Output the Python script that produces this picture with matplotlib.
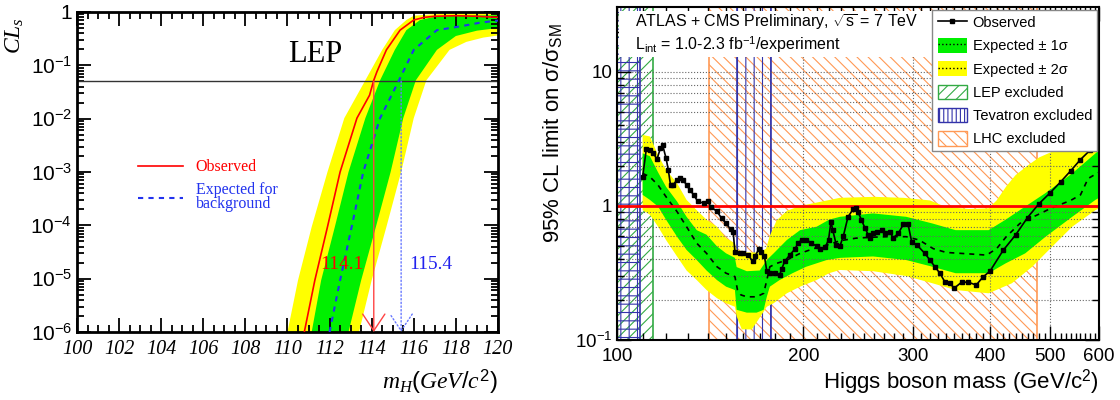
import matplotlib
matplotlib.use('Agg')
import matplotlib.pyplot as plt
import numpy as np
from matplotlib.patches import Patch, Rectangle
from matplotlib.lines import Line2D
from matplotlib.ticker import FixedLocator, FixedFormatter, NullFormatter

plt.rcParams['font.family'] = 'Liberation Sans'
plt.rcParams['mathtext.fontset'] = 'custom'
plt.rcParams['mathtext.rm'] = 'Liberation Sans'
plt.rcParams['mathtext.it'] = 'Liberation Serif:italic'
plt.rcParams['mathtext.bf'] = 'Liberation Sans:bold'
plt.rcParams['mathtext.sf'] = 'Liberation Sans'
plt.rcParams['hatch.linewidth'] = 0.8

GREEN = '#00f000'
YELLOW = '#ffff00'

# ---------------- LEP panel data (log10 CLs vs m_H) ----------------
lep_obs_mass = [110.8, 111.3, 111.9, 112.5, 113.3, 113.9, 114.1, 114.25, 114.7, 115.35,
                116.0, 116.5, 117.0, 118.0, 119.0, 120.0]
lep_obs_log = [-6.0, -5.03, -4.03, -3.0, -1.99, -1.56, -1.28, -1.12, -0.71, -0.34,
               -0.15, -0.1, -0.08, -0.07, -0.08, -0.1]
lep_exp_mass = [112.0, 112.5, 113.05, 113.6, 114.4, 115.3, 116.0, 117.1, 118.2, 119.15, 120.0]
lep_exp_log = [-6.0, -5.03, -4.03, -3.0, -1.99, -1.28, -0.71, -0.34, -0.27, -0.2, -0.16]
# band edges: "lo" = low-mass side, "hi" = high-mass side
lep_2s_lo_mass = [110.0, 110.5, 111.15, 111.9, 112.7, 113.7, 114.5, 115.1, 115.65, 116.0, 117.0, 118.0, 120.0]
lep_2s_lo_log = [-6.0, -5.03, -4.03, -3.0, -1.99, -1.28, -0.71, -0.34, -0.15, -0.07, -0.04, -0.03, -0.03]
lep_2s_hi_mass = [113.4, 114.0, 114.7, 115.4, 116.0, 116.6, 117.7, 118.5, 119.3, 120.0]
lep_2s_hi_log = [-6.0, -5.03, -4.03, -3.0, -1.99, -1.28, -0.71, -0.56, -0.48, -0.44]
lep_1s_lo_mass = [111.15, 111.6, 112.25, 112.9, 113.7, 114.4, 115.1, 115.65, 116.3, 117.0, 118.0, 120.0]
lep_1s_lo_log = [-6.0, -5.03, -4.03, -3.0, -1.99, -1.28, -0.71, -0.34, -0.15, -0.09, -0.07, -0.06]
lep_1s_hi_mass = [112.9, 113.5, 114.2, 114.9, 115.5, 116.1, 117.1, 118.0, 119.0, 120.0]
lep_1s_hi_log = [-6.0, -5.03, -4.03, -3.0, -1.99, -1.28, -0.71, -0.45, -0.35, -0.3]
cl_level = 0.05
obs_limit = 114.1
exp_limit = 115.4

# ---------------- ATLAS+CMS panel data ----------------
obs_mass = [110, 111.5, 113, 114.5, 116, 117.5, 118.5, 120, 121, 122, 123, 125, 126.5, 128,
            129.5, 131, 133, 135, 138, 140, 142, 145, 147.5, 150, 152.5, 154, 155, 158, 160,
            163, 165.5, 167, 169.5, 171, 173, 174.5, 176.5, 180, 183, 184.5, 186.5, 190, 194,
            196, 199, 202, 206, 210, 213, 217, 219.5, 221.5, 223, 226, 229, 232, 236, 240.5,
            243, 245, 248, 251.5, 254.5, 256.5, 259, 263, 267.5, 271, 276, 279, 284.5, 290,
            295, 299, 305, 314, 320, 326, 332, 338.5, 345, 350, 360, 369, 380, 390, 400, 420,
            440, 460, 480, 500, 520, 540, 560, 580, 600]
obs_limit_val = [1.65, 2.65, 2.6, 2.47, 2.23, 2.69, 2.84, 2.27, 1.86, 1.43, 1.43, 1.56, 1.63, 1.56,
                 1.43, 1.32, 1.21, 1.08, 1.05, 1.08, 0.98, 0.91, 0.81, 0.74, 0.67, 0.64, 0.456,
                 0.443, 0.443, 0.43, 0.386, 0.42, 0.48, 0.456, 0.42, 0.326, 0.315, 0.318, 0.305,
                 0.34, 0.386, 0.43, 0.48, 0.53, 0.56, 0.56, 0.53, 0.50, 0.475, 0.497, 0.557,
                 0.764, 0.66, 0.51, 0.50, 0.60, 0.83, 0.945, 0.96, 0.90, 0.79, 0.68, 0.608,
                 0.575, 0.625, 0.64, 0.66, 0.625, 0.64, 0.575, 0.625, 0.73, 0.73, 0.541, 0.51,
                 0.443, 0.395, 0.352, 0.315, 0.27, 0.265, 0.243, 0.27, 0.27, 0.257, 0.296, 0.326,
                 0.466, 0.608, 0.82, 1.04, 1.25, 1.51, 1.83, 2.22, 2.6, 3.0]
exp_mass = [110, 113, 116.5, 120, 125, 129.5, 134.5, 139.5, 145, 150, 155, 156.5, 158.5, 162,
            168, 172.5, 174.5, 176.5, 181, 188, 197.5, 207.5, 218, 229, 243, 259, 276, 293,
            307.5, 324, 340, 367, 395, 410, 425, 447, 470, 504, 540, 560, 576, 595, 600]
exp_limit_val = [1.75, 1.65, 1.43, 1.17, 0.907, 0.70, 0.527, 0.443, 0.352, 0.315, 0.297, 0.236,
                 0.217, 0.21, 0.21, 0.223, 0.28, 0.352, 0.373, 0.395, 0.443, 0.48, 0.51, 0.55,
                 0.575, 0.585, 0.59, 0.59, 0.557, 0.48, 0.45, 0.44, 0.43, 0.48, 0.59, 0.74, 0.83,
                 0.97, 1.1, 1.21, 1.6, 1.75, 1.78]
band2_up_mass = [110, 113, 116.5, 120, 125, 129.5, 134.5, 139.5, 145, 150, 155, 156, 162, 170,
                 174, 176.5, 181, 188, 197.5, 210, 229, 260, 290, 320, 340, 370, 398, 410, 425,
                 440, 460, 480, 500, 540, 600]
band2_up_val = [3.39, 3.3, 2.4, 1.86, 1.48, 1.11, 0.93, 0.79, 0.70, 0.575, 0.527, 0.47, 0.45, 0.45,
                0.48, 0.6, 0.78, 0.92, 1.0, 1.06, 1.15, 1.17, 1.15, 1.1, 0.98, 0.95, 0.96, 1.1,
                1.4, 1.7, 2.0, 2.3, 2.5, 2.9, 3.5]
band2_dn_mass = [110, 113, 116.5, 120, 125, 129.5, 134.5, 139.5, 145, 150, 155, 156, 159, 165,
                 169, 174.5, 179, 188, 197.5, 210, 220, 229, 259, 293, 323, 352, 398, 434, 468,
                 504, 543, 592, 600]
band2_dn_val = [0.93, 0.86, 0.70, 0.557, 0.42, 0.33, 0.28, 0.236, 0.205, 0.188, 0.177, 0.15, 0.12,
                0.12, 0.141, 0.177, 0.188, 0.223, 0.25, 0.28, 0.315, 0.333, 0.326, 0.30, 0.265,
                0.236, 0.223, 0.265, 0.352, 0.497, 0.70, 0.93, 0.96]
band1_up_mass = [110, 113, 116.5, 120, 125, 129.5, 134.5, 139.5, 145, 150, 155, 156, 162, 170,
                 174.5, 179, 188, 197.5, 210, 220, 229, 259, 293, 323, 352, 398, 424, 456, 492,
                 543, 600]
band1_up_val = [2.47, 2.35, 1.78, 1.39, 1.08, 0.83, 0.66, 0.61, 0.50, 0.443, 0.41, 0.35, 0.326,
                0.33, 0.395, 0.443, 0.557, 0.66, 0.70, 0.79, 0.83, 0.88, 0.83, 0.74, 0.66, 0.66,
                0.79, 0.99, 1.25, 1.75, 2.6]
band1_dn_mass = [110, 113, 116.5, 120, 125, 129.5, 134.5, 139.5, 145, 150, 155, 156, 162, 168,
                 172.5, 174.5, 176.5, 183, 192, 202, 218, 229, 259, 293, 323, 352, 398, 424, 456,
                 492, 543, 592, 600]
band1_dn_val = [1.21, 1.11, 0.99, 0.79, 0.59, 0.47, 0.395, 0.33, 0.28, 0.25, 0.236, 0.168, 0.16,
                0.16, 0.168, 0.21, 0.25, 0.28, 0.315, 0.352, 0.395, 0.41, 0.42, 0.395, 0.352,
                0.315, 0.315, 0.373, 0.443, 0.59, 0.83, 1.11, 1.15]
lep_excl = (100, 114.4)
tev_excl = [(100, 109), (156, 177)]
lhc_excl = (141, 476)

LEP_C = '#33aa44'
TEV_C = '#3333aa'
LHC_C = '#ff9955'


def polygon(lo_x, lo_y, hi_x, hi_y):
    xs = np.concatenate([np.asarray(lo_x, float), np.asarray(hi_x, float)[::-1]])
    ys = np.concatenate([np.asarray(lo_y, float), np.asarray(hi_y, float)[::-1]])
    return xs, ys


fig = plt.figure(figsize=(11.2, 4), dpi=100)

# ======================= left: LEP =======================
axl = fig.add_axes([0.06875, 0.17, 0.37585, 0.80])
axl.set_yscale('log')
x, y = polygon(lep_2s_lo_mass, lep_2s_lo_log, lep_2s_hi_mass, lep_2s_hi_log)
axl.fill(x, 10.0 ** y, color=YELLOW, lw=0, zorder=1)
x, y = polygon(lep_1s_lo_mass, lep_1s_lo_log, lep_1s_hi_mass, lep_1s_hi_log)
axl.fill(x, 10.0 ** y, color=GREEN, lw=0, zorder=1.1)
axl.axhline(cl_level, color='#333333', lw=1.0, zorder=2)
obs_line, = axl.plot(lep_obs_mass, 10.0 ** np.array(lep_obs_log), color='red', lw=1.2, zorder=3)
exp_line, = axl.plot(lep_exp_mass, 10.0 ** np.array(lep_exp_log), color='#2233ee', lw=1.5,
                     ls=(0, (2.5, 2.5)), zorder=3)
axl.annotate('', xy=(obs_limit, 1e-6), xytext=(obs_limit, cl_level),
             arrowprops=dict(arrowstyle='->,head_length=0.6,head_width=0.4', color='#ff4444',
                             lw=1.0, shrinkA=0, shrinkB=0, mutation_scale=20), zorder=4)
axl.annotate('', xy=(exp_limit, 1e-6), xytext=(exp_limit, cl_level),
             arrowprops=dict(arrowstyle='->,head_length=0.6,head_width=0.4', color='#6677ff',
                             lw=1.0, ls=':', shrinkA=0, shrinkB=0, mutation_scale=20), zorder=4)
axl.text(112.6, 10 ** -4.74, f'{obs_limit}', color='red', fontsize=14,
         family='Liberation Serif', ha='center', va='center', zorder=5)
axl.text(116.8, 10 ** -4.74, f'{exp_limit}', color='#2222ee', fontsize=14,
         family='Liberation Serif', ha='center', va='center', zorder=5)
axl.text(0.565, 0.866, 'LEP', transform=axl.transAxes, fontsize=22,
         family='Liberation Serif', ha='center', va='center')

axl.set_xlim(100, 120)
axl.set_ylim(1e-6, 1)
lep_xt = np.arange(100, 121, 2)
axl.xaxis.set_major_locator(FixedLocator(lep_xt))
axl.xaxis.set_minor_locator(FixedLocator(np.arange(100, 120.01, 0.5)))
axl.set_xticklabels([str(v) for v in lep_xt], family='Liberation Serif', style='italic',
                    fontsize=14.5)
lep_yt = [1e-6, 1e-5, 1e-4, 1e-3, 1e-2, 1e-1, 1]
axl.yaxis.set_major_locator(FixedLocator(lep_yt))
axl.yaxis.set_major_formatter(FixedFormatter(
    [r'$\mathit{10^{-%d}}$' % k for k in range(6, 0, -1)] + [r'$\mathit{1}$']))
axl.yaxis.set_minor_locator(FixedLocator([m * 10.0 ** e for e in range(-6, 0) for m in range(2, 10)]))
axl.yaxis.set_minor_formatter(NullFormatter())
axl.tick_params(axis='y', labelsize=15)
axl.tick_params(which='both', direction='in', top=True, right=True, width=1.3)
axl.tick_params(which='major', length=10)
axl.tick_params(which='minor', length=5)
axl.tick_params(axis='x', pad=6)
for s in axl.spines.values():
    s.set_linewidth(2)
axl.set_xlabel(r'$\mathit{m_H(GeV/c^2)}$', fontsize=17, loc='right')
axl.xaxis.set_label_coords(1.0, -0.11)
axl.set_ylabel(r'$\mathit{CL_s}$', fontsize=17, loc='top')
axl.yaxis.set_label_coords(-0.12, 0.985)
leg = axl.legend([obs_line, exp_line], ['Observed', 'Expected for\nbackground'],
                 loc='upper left', bbox_to_anchor=(0.145, 0.54), frameon=False,
                 prop={'family': 'Liberation Serif', 'size': 11.5}, labelcolor='linecolor',
                 handlelength=2.8, handletextpad=0.8, borderaxespad=0, borderpad=0,
                 labelspacing=0.45)
leg.get_texts()[1].set_linespacing(0.8)

# ======================= right: ATLAS + CMS =======================
axr = fig.add_axes([0.5509, 0.15, 0.4304, 0.8325])
axr.set_xscale('log')
axr.set_yscale('log')

axr.axvspan(*lhc_excl, facecolor='none', edgecolor=LHC_C, hatch='\\\\\\', lw=0, zorder=0.4)
axr.axvspan(*lep_excl, facecolor='none', edgecolor=LEP_C, hatch='///', lw=0, zorder=0.5)
for lo, hi in tev_excl:
    axr.axvspan(lo, hi, facecolor='none', edgecolor=TEV_C, hatch='||', lw=0, zorder=0.6)
axr.axvspan(*tev_excl[0], facecolor='none', edgecolor=TEV_C, hatch='--', lw=0, zorder=0.6)
for v in lhc_excl:
    axr.axvline(v, color=LHC_C, lw=1.2, zorder=0.7)
axr.axvline(lep_excl[1], color=LEP_C, lw=1.2, zorder=0.7)
for lo, hi in tev_excl:
    axr.axvline(lo, color=TEV_C, lw=1.2, zorder=0.7)
    axr.axvline(hi, color=TEV_C, lw=1.2, zorder=0.7)

x, y = polygon(band2_up_mass, band2_up_val, band2_dn_mass, band2_dn_val)
axr.fill(x, y, color=YELLOW, lw=0, zorder=1)
x, y = polygon(band1_up_mass, band1_up_val, band1_dn_mass, band1_dn_val)
axr.fill(x, y, color=GREEN, lw=0, zorder=1.1)
axr.plot(exp_mass, exp_limit_val, color='k', lw=1.2, ls=(0, (3, 3)), zorder=4)
axr.plot(obs_mass, obs_limit_val, color='k', lw=1.2, marker='s', ms=3.5, zorder=5)
axr.axhline(1, color='red', lw=2, zorder=4.5)

axr.set_xlim(100, 600)
axr.set_ylim(0.1, 30.5)
higgs_xt = [100, 200, 300, 400, 500, 600]
axr.xaxis.set_major_locator(FixedLocator(higgs_xt))
axr.xaxis.set_major_formatter(FixedFormatter([str(v) for v in higgs_xt]))
axr.xaxis.set_minor_locator(FixedLocator([v for v in range(110, 600, 10) if v % 100]))
axr.xaxis.set_minor_formatter(NullFormatter())
axr.yaxis.set_major_locator(FixedLocator([0.1, 1, 10]))
axr.yaxis.set_major_formatter(FixedFormatter([r'$\mathrm{10^{-1}}$', '1', '10']))
axr.yaxis.set_minor_locator(FixedLocator([m * 10.0 ** e for e in (-1, 0) for m in range(2, 10)] + [20]))
axr.yaxis.set_minor_formatter(NullFormatter())
axr.tick_params(which='both', direction='in', top=True, right=True, width=1.0, labelsize=13.5)
axr.tick_params(which='major', length=10)
axr.tick_params(which='minor', length=5)
axr.tick_params(axis='x', pad=6)
axr.grid(True, which='both', axis='y', ls=':', color='#666666', lw=0.8)
axr.grid(True, which='major', axis='x', ls=':', color='#666666', lw=0.8)
axr.set_axisbelow(False)
for s in axr.spines.values():
    s.set_linewidth(1.5)
    s.set_zorder(6)

axr.add_patch(Rectangle((0.004, 0.85), 0.66, 0.138, transform=axr.transAxes, fc='white',
                        ec='none', zorder=3.5))
axr.text(0.037, 0.955, r'ATLAS + CMS Preliminary, $\sqrt{\mathrm{s}}$ = 7 TeV',
         transform=axr.transAxes, fontsize=11.5, va='center', zorder=6)
axr.text(0.037, 0.886, r'L$_{\mathrm{int}}$ = 1.0-2.3 fb$^{\mathrm{-1}}$/experiment',
         transform=axr.transAxes, fontsize=11.5, va='center', zorder=6)

handles = [
    Line2D([], [], color='k', lw=1.2, marker='s', ms=3.5),
    (Patch(fc=GREEN, ec='none'), Line2D([], [], color='k', lw=1, ls=':')),
    (Patch(fc=YELLOW, ec='none'), Line2D([], [], color='k', lw=1, ls=':')),
    Patch(fc='white', ec=LEP_C, hatch='///', lw=1),
    Patch(fc='white', ec=TEV_C, hatch='||||', lw=1),
    Patch(fc='white', ec=LHC_C, hatch='\\\\\\', lw=1),
]
labels = ['Observed', 'Expected ± 1σ', 'Expected ± 2σ', 'LEP excluded', 'Tevatron excluded',
          'LHC excluded']
lg = axr.legend(handles, labels, loc='upper right', bbox_to_anchor=(0.996, 0.991),
                borderaxespad=0, fontsize=10.5, fancybox=False, framealpha=1,
                edgecolor='#888888', handlelength=2.0, handleheight=1.15, handletextpad=0.4,
                labelspacing=0.55, borderpad=0.35)
lg.set_zorder(7)

axr.set_xlabel('Higgs boson mass (GeV/c$^{\\mathrm{2}}$)', fontsize=16, loc='right')
axr.xaxis.set_label_coords(1.0, -0.083)
axr.set_ylabel('95% CL limit on σ/σ$_{\\mathrm{SM}}$', fontsize=16, loc='top')
axr.yaxis.set_label_coords(-0.11, 0.95)

fig.savefig('out.png', dpi=100)
